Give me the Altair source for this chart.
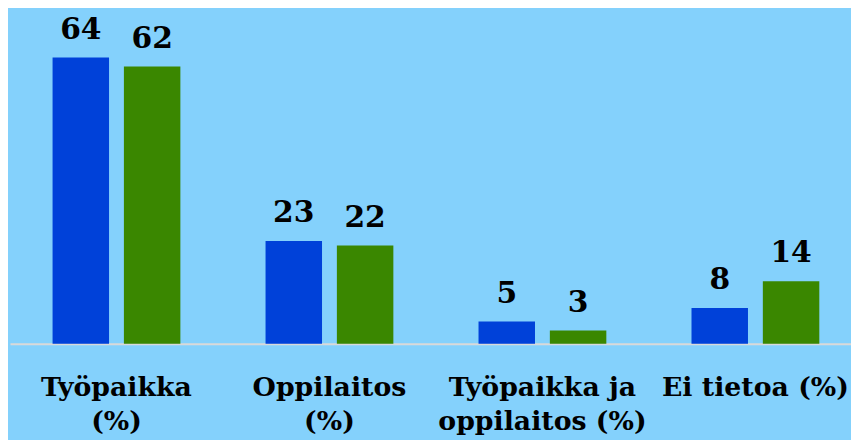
import altair as alt
import pandas as pd

categories = ["Työpaikka (%)", "Oppilaitos (%)", "Työpaikka ja oppilaitos (%)", "Ei tietoa (%)"]
label_lines = [["Työpaikka", "(%)"], ["Oppilaitos", "(%)"], ["Työpaikka ja", "oppilaitos (%)"], ["Ei tietoa (%)"]]
series = ["Sarja 1", "Sarja 2"]
values_1 = [64, 23, 5, 8]
values_2 = [62, 22, 3, 14]
colors = ["#0041D9", "#3A8700"]

rows = []
for c, v1, v2 in zip(categories, values_1, values_2):
    rows.append({"cat": c, "series": series[0], "value": v1})
    rows.append({"cat": c, "series": series[1], "value": v2})
df = pd.DataFrame(rows)

expr = "''"
for c, lines in reversed(list(zip(categories, label_lines))):
    arr = "[" + ",".join("'" + l + "'" for l in lines) + "]"
    expr = f"datum.value == '{c}' ? {arr} : ({expr})"

x = alt.X("cat:N", sort=categories, title=None,
          scale=alt.Scale(range=[0, 860], paddingInner=0, paddingOuter=0),
          axis=alt.Axis(labelExpr=expr, labelAngle=0, ticks=False, labelPadding=31,
                        labelFont="DejaVu Serif", labelFontWeight="bold", labelFontSize=27,
                        labelColor="#000000", labelLineHeight=34, labelLimit=400,
                        labelOverlap=False, labelBound=False,
                        domainColor="#D9D9D9", domainWidth=2, grid=False))
xo = alt.XOffset("series:N", sort=series,
                 scale=alt.Scale(paddingInner=0.2083, paddingOuter=0.597))
y = alt.Y("value:Q", scale=alt.Scale(domain=[0, 74.63], nice=False, zero=True), axis=None)

base = alt.Chart(df)
bars = base.mark_bar().encode(
    x=x, xOffset=xo, y=y,
    color=alt.Color("series:N", sort=series, scale=alt.Scale(domain=series, range=colors), legend=None),
)
texts = base.mark_text(dy=-19, baseline="alphabetic", align="center", font="DejaVu Serif",
                       fontWeight="bold", fontSize=30, color="#000000").encode(
    x=x, xOffset=xo, y=y, text=alt.Text("value:Q")
)

chart = (bars + texts).properties(
    width=849, height=337,
    autosize=alt.AutoSizeParams(type="none"),
    padding={"left": 2, "top": 0, "right": 0, "bottom": 95},
    background="#84D1FC",
).configure_view(stroke=None)

chart.save("out.html", embed_options={"renderer": "svg", "actions": False})
